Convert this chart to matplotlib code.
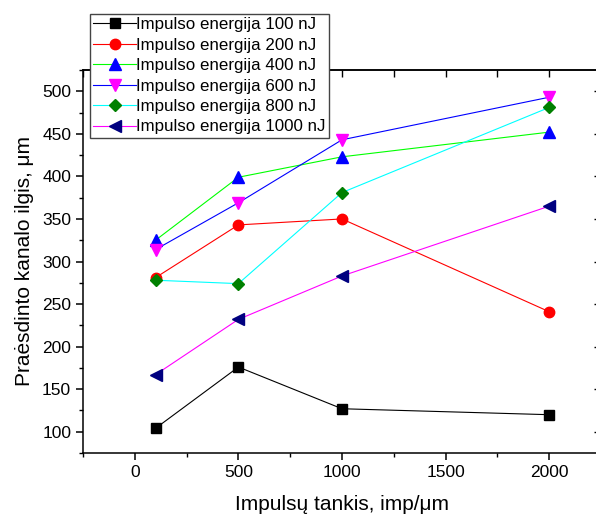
import numpy as np
import matplotlib.pyplot as plt
from matplotlib.ticker import MultipleLocator

plt.rcParams['font.family'] = ['Liberation Sans', 'DejaVu Sans']

density = [100, 500, 1000, 2000]  # imp/um
e100 = [104, 176, 127, 120]
e200 = [281, 343, 350, 241]
e400 = [325, 399, 423, 452]
e600 = [314, 369, 443, 493]
e800 = [278, 274, 381, 481]
e1000 = [167, 232, 283, 365]

labels = ['Impulso energija 100 nJ', 'Impulso energija 200 nJ',
          'Impulso energija 400 nJ', 'Impulso energija 600 nJ',
          'Impulso energija 800 nJ', 'Impulso energija 1000 nJ']
series = [e100, e200, e400, e600, e800, e1000]
line_colors = ['#000000', '#ff0000', '#00ff00', '#0000ff', '#00ffff', '#ff00ff']
marker_colors = ['#000000', '#ff0000', '#0000ff', '#ff00ff', '#008000', '#000080']
markers = ['s', 'o', '^', 'v', 'D', '<']
msizes = [6.5, 7.5, 8, 8, 6.5, 8]

fig = plt.figure(figsize=(5.96, 5.17), dpi=100)
ax = fig.add_axes([83/596, 64/517, (601 - 83)/596, (453 - 70)/517])

for y, lab, lc, mc, m, ms in zip(series, labels, line_colors, marker_colors, markers, msizes):
    ax.plot(density, y, color=lc, lw=0.8, marker=m, ms=ms,
            mfc=mc, mec=mc, label=lab, clip_on=False)

ax.set_xlim(-250, 2250)
ax.set_ylim(75, 525)
ax.xaxis.set_major_locator(MultipleLocator(500))
ax.xaxis.set_minor_locator(MultipleLocator(250))
ax.yaxis.set_major_locator(MultipleLocator(50))
ax.yaxis.set_minor_locator(MultipleLocator(25))
ax.tick_params(which='major', direction='out', length=5, width=1.1, labelsize=12.5)
ax.tick_params(which='minor', direction='out', length=3, width=1.0)
for s in ax.spines.values():
    s.set_linewidth(1.1)

top = ax.secondary_xaxis('top')
top.xaxis.set_major_locator(MultipleLocator(500))
top.xaxis.set_minor_locator(MultipleLocator(250))
top.tick_params(which='both', direction='in', length=5, width=1.0, labelsize=0, labeltop=False)
top.spines['top'].set_linewidth(1.1)
right = ax.secondary_yaxis('right')
right.yaxis.set_major_locator(MultipleLocator(50))
right.yaxis.set_minor_locator(MultipleLocator(25))
right.tick_params(which='major', direction='in', length=5, width=1.0, labelright=False)
right.tick_params(which='minor', length=0)

ax.set_xlabel('Impulsų tankis, imp/\u03bcm', fontsize=15, labelpad=11)
ax.set_ylabel('Praėsdinto kanalo ilgis, \u03bcm', fontsize=15, labelpad=6)

leg = ax.legend(loc='upper left', bbox_to_anchor=(90/596, 1 - 14/517),
                bbox_transform=fig.transFigure, fontsize=12.2, frameon=True,
                fancybox=False, framealpha=1, edgecolor='#444444',
                handlelength=2.5, handletextpad=0.0, labelspacing=0.32,
                borderpad=0.2, borderaxespad=0)
leg.get_frame().set_linewidth(1.0)

fig.savefig('out.png', dpi=100)
